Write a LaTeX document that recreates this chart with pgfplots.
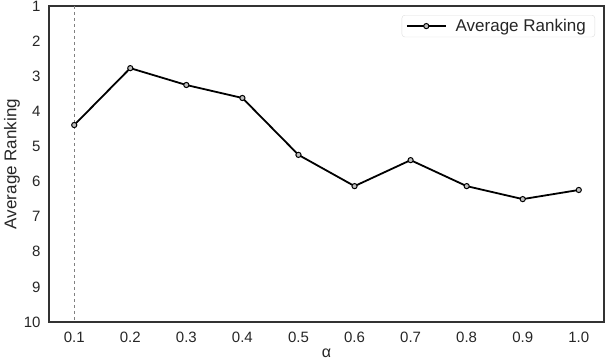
\documentclass[border=0pt]{standalone}
\usepackage{fontspec}
\setmainfont{Liberation Sans}
\usepackage{pgfplots}
\pgfplotsset{compat=1.18}
\begin{document}
\begin{tikzpicture}[x=1bp,y=1bp]
\begin{axis}[
  scale only axis,
  width=555bp, height=316bp,
  xmin=0.055, xmax=1.045,
  ymin=1, ymax=10, y dir=reverse,
  xtick={0.1,0.2,...,1.0},
  xticklabels={0.1,0.2,0.3,0.4,0.5,0.6,0.7,0.8,0.9,1.0},
  ytick={1,2,...,10},
  major tick length=0pt,
  /pgf/number format/assume math mode=true,
  tick label style={font=\fontsize{15bp}{17bp}\selectfont, text=black!85},
  xticklabel style={yshift=-7bp},
  yticklabel style={xshift=-5bp},
  xlabel={α}, ylabel={Average Ranking},
  xlabel style={font=\fontsize{16bp}{18bp}\selectfont, text=black!85,
    at={(axis description cs:0.5,0)}, anchor=base, yshift=-35bp},
  ylabel style={font=\fontsize{17bp}{19bp}\selectfont, text=black!85,
    at={(axis description cs:0,0.5)}, anchor=center, yshift=37bp},
  axis line style={black!80, line width=1.25bp},
  legend style={at={(1,1)}, anchor=north east, xshift=-9bp, yshift=-9bp,
    draw=black!13, rounded corners=3bp,
    font=\fontsize{17bp}{19bp}\selectfont,
    text=black!85, inner xsep=4bp, inner ysep=2bp,
    nodes={inner xsep=5bp}},
  legend image code/.code={
    \draw[#1, mark repeat=2, mark phase=2] plot coordinates {(0bp,0bp) (19.5bp,0bp) (39bp,0bp)};
    \path (43bp,0bp);},
  legend cell align=left,
  clip=false,
]
\addplot[gray, dashed, line width=0.7bp, forget plot] coordinates {(0.1,1) (0.1,10)};
\addplot[black, line width=1.8bp, mark=*, mark size=2.6bp,
  mark options={fill=gray!50, draw=black, line width=1bp}] coordinates {
  (0.1,4.39) (0.2,2.77) (0.3,3.25) (0.4,3.62) (0.5,5.24)
  (0.6,6.13) (0.7,5.39) (0.8,6.13) (0.9,6.50) (1.0,6.24)};
\addlegendentry{Average Ranking}
\end{axis}
\pgfresetboundingbox
\path ([shift={(-49bp,-42bp)}]current axis.south west) rectangle ([shift={(2bp,6bp)}]current axis.north east);
\end{tikzpicture}
\end{document}
